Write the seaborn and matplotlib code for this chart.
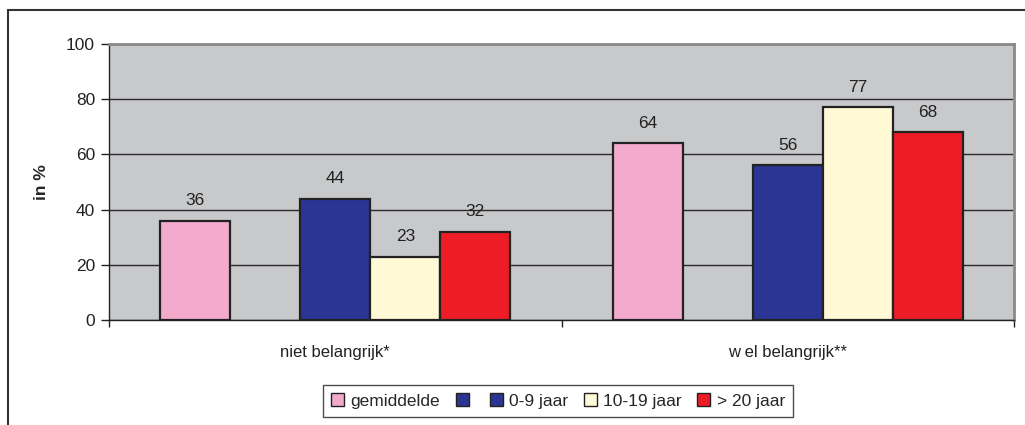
import numpy as np
import pandas as pd
import matplotlib
matplotlib.use("Agg")
import matplotlib.pyplot as plt
from matplotlib.patches import Patch, Rectangle
import seaborn as sns

# ------------------------------------------------------------
# DATA
# ------------------------------------------------------------
categories = ["niet belangrijk*", "w el belangrijk**"]
series = ["gemiddelde", " ", "0-9 jaar", "10-19 jaar", "> 20 jaar"]
gemiddelde = [36, 64]
leeg = [np.nan, np.nan]
jaar_0_9 = [44, 56]
jaar_10_19 = [23, 77]
jaar_20 = [32, 68]
colors = ["#F4AACD", "#2B3594", "#2B3594", "#FFFAD5", "#EE1C25"]

rows = []
for s, vals in zip(series, [gemiddelde, leeg, jaar_0_9, jaar_10_19, jaar_20]):
    for c, v in zip(categories, vals):
        rows.append({"categorie": c, "reeks": s, "waarde": v})
df = pd.DataFrame(rows)
palette = dict(zip(series, colors))

# ------------------------------------------------------------
# FIGURE
# ------------------------------------------------------------
sns.set_style("white")
plt.rcParams["font.family"] = ["Liberation Sans", "DejaVu Sans"]

fig = plt.figure(figsize=(10.25, 4.25), dpi=100)
ax = fig.add_axes([109 / 1025, 1 - 320 / 425, 905 / 1025, 276 / 425])
ax.set_facecolor("#C8C9CB")

sns.barplot(
    data=df, x="categorie", y="waarde", hue="reeks",
    order=categories, hue_order=series, palette=palette, saturation=1,
    width=0.774, edgecolor="#222222", linewidth=1.6,
    errorbar=None, legend=False, ax=ax,
)

# value labels
for cont in ax.containers:
    labels = ["" if np.isnan(v) else f"{v:.0f}" for v in cont.datavalues]
    ax.bar_label(cont, labels=labels, padding=9, fontsize=12.5, color="#222222")

# ------------------------------------------------------------
# AXES
# ------------------------------------------------------------
ax.set_ylim(0, 100)
ax.set_xlim(-0.5, 1.5)
ax.set_yticks([0, 20, 40, 60, 80, 100])
ax.yaxis.grid(True, color="#2a2a2a", linewidth=1)
ax.set_axisbelow(True)
ax.tick_params(axis="y", length=6, width=1, color="#222222", labelsize=12.5,
               labelcolor="#222222", pad=4, left=True)
ax.set_xticks([0, 1])
ax.set_xticklabels(categories)
ax.set_xticks([-0.5, 0.5, 1.5], minor=True)
ax.tick_params(axis="x", which="major", length=0, labelsize=12,
               labelcolor="#222222", pad=18)
ax.tick_params(axis="x", which="minor", length=5, width=1, color="#222222",
               bottom=True)
ax.set_xlabel("")
ax.set_ylabel("in %", fontsize=12.5, fontweight="bold", labelpad=12)

for side in ["left", "bottom"]:
    ax.spines[side].set_color("#222222")
    ax.spines[side].set_linewidth(1)
for side in ["top", "right"]:
    ax.spines[side].set_visible(True)
    ax.spines[side].set_color("#8a8a8a")
    ax.spines[side].set_linewidth(2)

# ------------------------------------------------------------
# LEGEND
# ------------------------------------------------------------
handles = [Patch(facecolor=palette[s], edgecolor="#222222", linewidth=1) for s in series]
leg_labels = ["gemiddelde", "", "0-9 jaar", "10-19 jaar", "> 20 jaar"]
leg = fig.legend(
    handles, leg_labels, ncol=5, loc="center", bbox_to_anchor=(558 / 1025, 1 - 401 / 425),
    fontsize=12.5, frameon=True, fancybox=False, edgecolor="#222222",
    handlelength=0.75, handleheight=0.75, handletextpad=0.35, columnspacing=0.9,
    borderpad=0.45,
)
leg.get_frame().set_linewidth(1)

# outer chart frame
fig.patches.append(Rectangle((8 / 1025, -0.2), 1.2, 1 - 10 / 425 + 0.2,
                             transform=fig.transFigure, fill=False,
                             edgecolor="#333333", linewidth=1.5))

plt.savefig("out.png", dpi=100)
